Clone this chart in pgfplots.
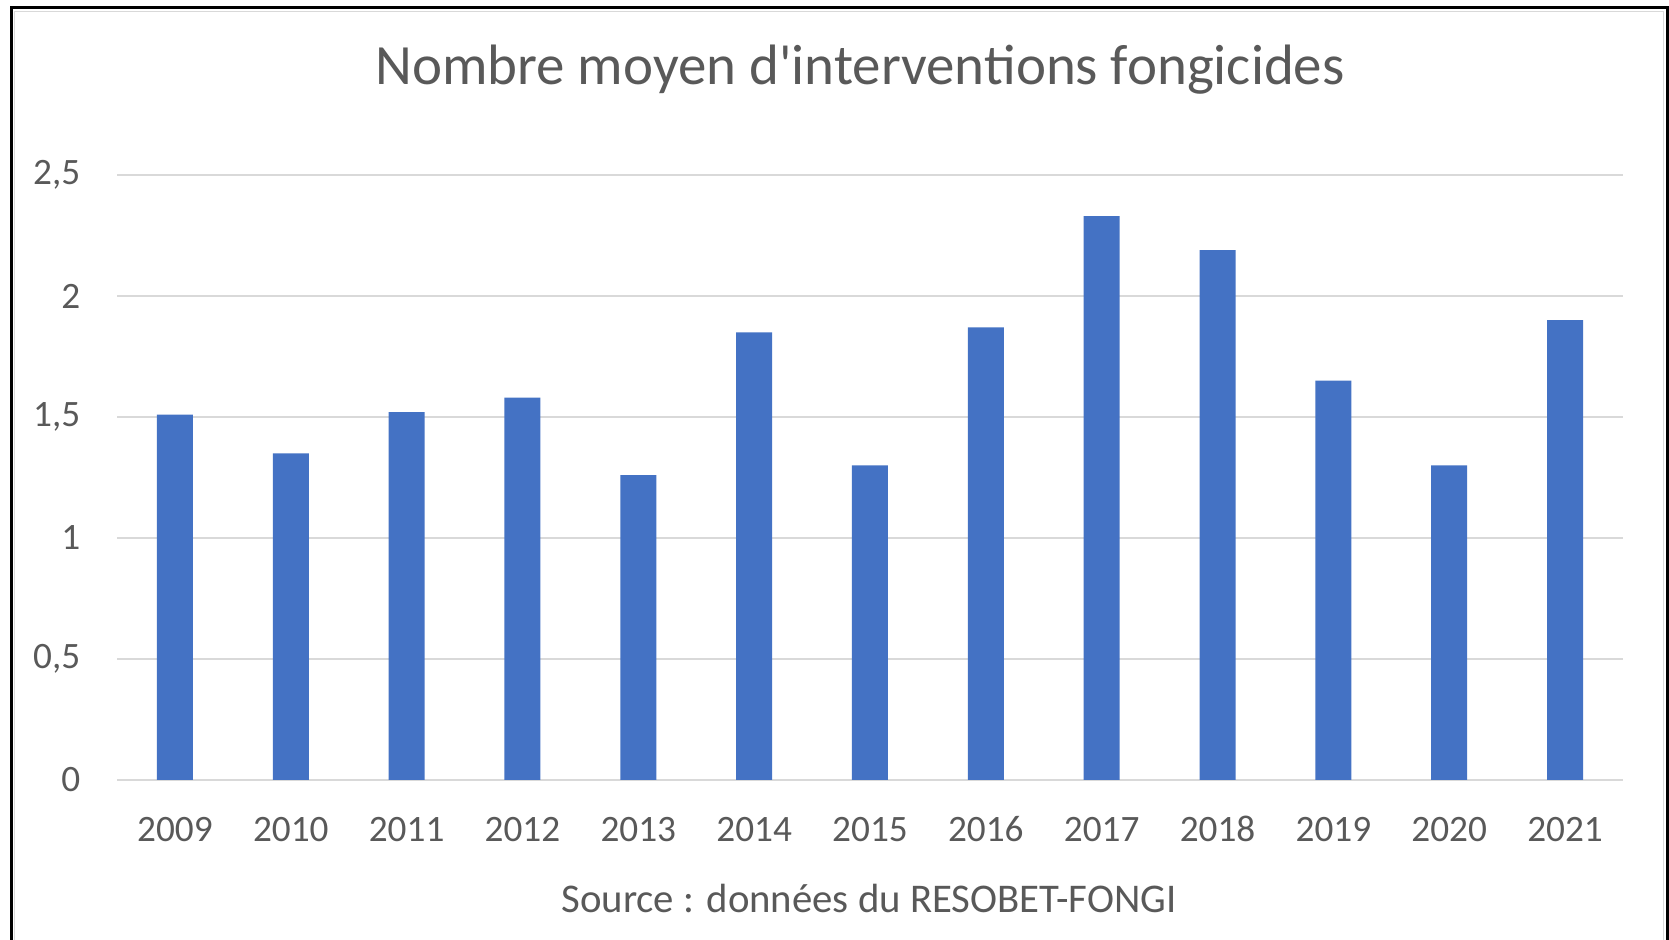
\documentclass[border=0pt]{standalone}
\usepackage{pgfplots}
\pgfplotsset{compat=1.18}
\usepackage{fontspec}
\setmainfont{Carlito}
\newfontfamily\plainfont{Carlito}
\definecolor{txt}{HTML}{595959}
\definecolor{grd}{HTML}{D9D9D9}
\definecolor{barc}{HTML}{4472C4}
\begin{document}
\begin{tikzpicture}[x=0.1mm,y=0.1mm]
\useasboundingbox (0,0) rectangle (1669,940);
\fill[white] (0,0) rectangle (1669,940);
\draw[black, line width=0.3mm] (11,-30) -- (11,932) -- (1667,932) -- (1667,-30);
\draw[grd, line width=0.15mm] (14.5,-30) -- (14.5,928.5) -- (1663.5,928.5) -- (1663.5,-30);
\begin{axis}[
  at={(11.7mm,16mm)}, anchor=south west,
  scale only axis, width=150.6mm, height=60.5mm,
  xmin=-0.5, xmax=12.5, ymin=0, ymax=2.5,
  ytick={0,0.5,1,1.5,2,2.5},
  xtick=data,
  xticklabels={2009,2010,2011,2012,2013,2014,2015,2016,2017,2018,2019,2020,2021},
  /pgf/number format/assume math mode=true,
  /pgf/number format/use comma,
  ymajorgrids, grid style={grd, line width=0.2mm},
  axis line style={draw=none},
  major tick length=0pt,
  tick label style={text=txt, font=\fontsize{10.6}{12}\selectfont},
  xticklabel style={anchor=base, yshift=-6.2mm},
  yticklabel style={anchor=east, inner sep=0pt, xshift=-3.6mm},
  ybar, bar width=3.6mm,
  clip=false,
]
\addplot[fill=barc, draw=none] coordinates {
(0,1.51) (1,1.35) (2,1.52) (3,1.58) (4,1.26) (5,1.85) (6,1.30)
(7,1.87) (8,2.33) (9,2.19) (10,1.65) (11,1.30) (12,1.90)};
\end{axis}
\node[anchor=base, text=txt, font=\plainfont\fontsize{16.2}{20}\selectfont] at (860,855) {Nombre moyen d'interventions fongicides};
\node[anchor=base, text=txt, font=\fontsize{11.6}{13}\selectfont] at (869,27) {Source : données du RESOBET-FONGI};
\end{tikzpicture}
\end{document}
